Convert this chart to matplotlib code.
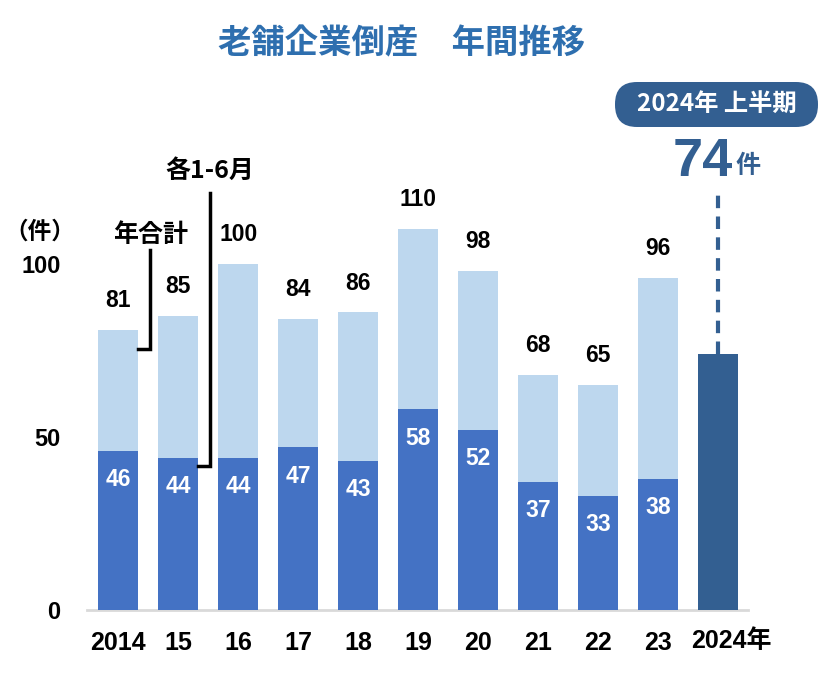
import matplotlib.pyplot as plt
from matplotlib.patches import FancyBboxPatch
import numpy as np

plt.rcParams['font.family'] = ['Liberation Sans', 'Noto Sans CJK JP', 'DejaVu Sans']

years = ['2014', '15', '16', '17', '18', '19', '20', '21', '22', '23', '2024年']
total = [81, 85, 100, 84, 86, 110, 98, 68, 65, 96]
first_half = [46, 44, 44, 47, 43, 58, 52, 37, 33, 38]
h1_2024 = 74

light = '#BDD7EE'
mid = '#4472C4'
dark = '#335F91'
title_c = '#2E6FAF'

fig = plt.figure(figsize=(8.26, 6.77), dpi=100)
ax = fig.add_axes([87 / 826, 67 / 677, 661 / 826, 519 / 677])

x = np.arange(len(total))
w = 0.67
ax.bar(x, total, width=w, color=light, zorder=2)
ax.bar(x, first_half, width=w, color=mid, zorder=3)
ax.bar(len(total), h1_2024, width=w, color=dark, zorder=3)

for i in range(len(total)):
    ax.text(x[i], total[i] + 8.5, str(total[i]), ha='center', va='center',
            fontsize=16.5, fontweight='bold', color='black')
    ax.text(x[i], first_half[i] - 8.3, str(first_half[i]), ha='center', va='center',
            fontsize=16.5, fontweight='bold', color='white', zorder=4)

ax.set_xlim(-0.52, 10.5)
ax.set_ylim(0, 150)
ax.set_yticks([0, 50, 100])
ax.set_yticklabels(['0', '50', '100'], fontsize=17, fontweight='bold')
ax.set_xticks(np.arange(len(years)))
ax.set_xticklabels(years[:-1] + [''], fontsize=18, fontweight='bold')
# last label sits a little right of its bar
ax.text(len(years) - 1 + 0.23, -9.0, years[-1], ha='center', va='center',
        fontsize=18, fontweight='bold')
ax.tick_params(axis='y', length=0, pad=19)
ax.tick_params(axis='x', length=0, pad=15)
for s in ['top', 'right', 'left']:
    ax.spines[s].set_visible(False)
ax.spines['bottom'].set_color('#D9D9D9')
ax.spines['bottom'].set_linewidth(2)

# callout: annual total
lx = x[0] + w / 2
ax.plot([lx, lx + 0.2, lx + 0.2], [75.4, 75.4, 104], color='black', lw=2.5,
        solid_joinstyle='miter', zorder=5, clip_on=False)
ax.text(lx + 0.2, 108.5, '年合計', ha='center', va='center', fontsize=18,
        fontweight='bold', family=['Noto Sans CJK JP'])

# callout: Jan-Jun
lx2 = x[1] + w / 2
ax.plot([lx2, lx2 + 0.2, lx2 + 0.2], [41.6, 41.6, 120.5], color='black', lw=2.5,
        solid_joinstyle='miter', zorder=5, clip_on=False)
ax.text(lx2 + 0.2, 127, '各1-6月', ha='center', va='center', fontsize=18,
        fontweight='bold', family=['Noto Sans CJK JP'])

# 2024 dashed marker
ax.plot([len(total), len(total)], [h1_2024, 120.5], color=dark, lw=3,
        linestyle=(0, (3, 2)), zorder=2, clip_on=False)

# overlay in pixel coordinates for header items
ov = fig.add_axes([0, 0, 1, 1])
ov.set_xlim(0, 826)
ov.set_ylim(677, 0)
ov.axis('off')
ov.patch.set_alpha(0)

ov.text(40, 232, '（件）', ha='center', va='center', fontsize=17,
        fontweight='bold', family=['Noto Sans CJK JP'])

ov.text(402, 44, '老舗企業倒産　年間推移', ha='center', va='center',
        fontsize=24, fontweight='bold', color=title_c, family=['Noto Sans CJK JP'])

ov.add_patch(FancyBboxPatch((615, 82), 203, 45, boxstyle='round,pad=0,rounding_size=22',
                            facecolor=dark, edgecolor='none'))
ov.text(717, 104, '2024年 上半期', ha='center', va='center',
        fontsize=17.5, fontweight='bold', color='white', family=['Noto Sans CJK JP'])

ov.text(703, 162, '74', ha='center', va='center', fontsize=39,
        fontweight='bold', color=dark)
ov.text(748, 166, '件', ha='center', va='center', fontsize=18,
        fontweight='bold', color=dark, family=['Noto Sans CJK JP'])

fig.savefig('out.png', dpi=100)
